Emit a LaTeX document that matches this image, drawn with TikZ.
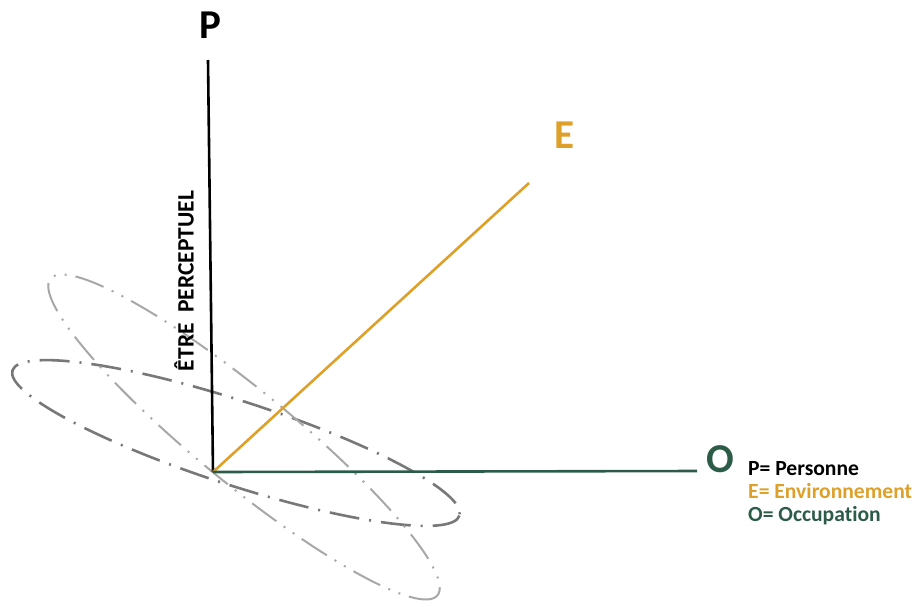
\documentclass[tikz,border=0pt]{standalone}
\usepackage{fontspec}
\setmainfont[RawFeature={-liga;-dlig;-calt}]{Carlito}
\definecolor{egold}{RGB}{222,160,40}
\definecolor{ogreen}{RGB}{44,92,72}
\definecolor{ell1}{RGB}{120,120,120}
\definecolor{ell2}{RGB}{168,168,168}
\begin{document}
\begin{tikzpicture}[x=1pt,y=-1pt,
  axis/.style={line width=2.6pt},
  bigletter/.style={font=\fontsize{41}{41}\selectfont\bfseries, anchor=base, inner sep=0pt},
  legend/.style={font=\fontsize{21.6}{21.6}\selectfont\bfseries, anchor=base west, inner sep=0pt},
  ellone/.style={draw=ell1, line width=2.6pt, dash pattern=on 30pt off 10pt on 2pt off 10pt},
  elltwo/.style={draw=ell2, line width=2pt, dash pattern=on 30pt off 9pt on 2pt off 9pt on 2pt off 9pt}]
\useasboundingbox (0,0) rectangle (915,606);
% ellipses
\draw[ellone, rotate around={-18:(236,443)}] (236,443) ellipse [x radius=235, y radius=42];
\draw[elltwo, rotate around={-39.3:(244,437)}] (244,437) ellipse [x radius=250, y radius=47];
% axes
\coordinate (orig) at (213,472);
\coordinate (ptop) at (208,60);
\coordinate (eend) at (529,183);
\coordinate (oend) at (697,471);
\draw[axis, black] (orig) -- (ptop);
\draw[axis, egold] (orig) -- (eend);
\draw[axis, ogreen] (orig) -- (oend);
% labels
\node[bigletter, text=black] (plab) at (210,38) {P};
\node[bigletter, text=egold] (elab) at (564,148) {E};
\node[bigletter, text=ogreen] (olab) at (720,472) {O};
\node[font=\fontsize{23.5}{23.5}\selectfont\bfseries, rotate=90, inner sep=0pt] (etre) at (184,281) {ÊTRE~~PERCEPTUEL};
% legend
\node[legend, text=black] (lp) at (748,475) {P= Personne};
\node[legend, text=egold] (le) at (748,498) {E= Environnement};
\node[legend, text=ogreen] (lo) at (748,521) {O= Occupat\kern0pt ion};
\end{tikzpicture}
\end{document}
